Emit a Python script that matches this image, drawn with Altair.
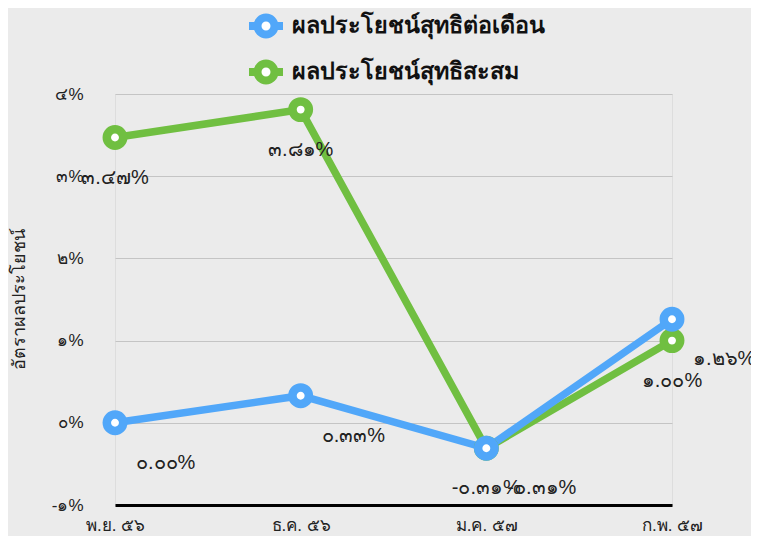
import altair as alt
import pandas as pd

months = ["พ.ย. ๕๖", "ธ.ค. ๕๖", "ม.ค. ๕๗", "ก.พ. ๕๗"]
series_names = ["ผลประโยชน์สุทธิต่อเดือน", "ผลประโยชน์สุทธิสะสม"]
monthly = [0.00, 0.33, -0.31, 1.26]
cumulative = [3.47, 3.81, -0.31, 1.00]
monthly_labels = ["๐.๐๐%", "๐.๓๓%", "-๐.๓๑%", "๑.๒๖%"]
cumulative_labels = ["๓.๔๗%", "๓.๘๑%", "-๐.๓๑%", "๑.๐๐%"]
y_ticks = [-1, 0, 1, 2, 3, 4]
y_tick_labels = ["-๑%", "๐%", "๑%", "๒%", "๓%", "๔%"]
colors = ["#51A7F9", "#70BF41"]
y_title = "อัตราผลประโยชน์"

rows = []
for name, vals, labs in [(series_names[0], monthly, monthly_labels),
                         (series_names[1], cumulative, cumulative_labels)]:
    for m, v, l in zip(months, vals, labs):
        rows.append({"month": m, "series": name, "value": v, "label": l})
df = pd.DataFrame(rows)

FONT = "sans-serif"

label_expr = "[" + ",".join("'" + s + "'" for s in y_tick_labels) + "][indexof([" + \
    ",".join(str(t) for t in y_ticks) + "], datum.value)]"

x_enc = alt.X("month:N", sort=months,
              scale=alt.Scale(type="point", padding=0),
              axis=alt.Axis(title=None, labelAngle=0, ticks=False, grid=False,
                            domainColor="#000000", domainWidth=3,
                            labelFontSize=17, labelColor="#222222",
                            labelPadding=12, labelBaseline="top"))
y_enc = alt.Y("value:Q",
              scale=alt.Scale(domain=[-1, 4], nice=False, zero=False),
              axis=alt.Axis(title=y_title, values=y_ticks, labelExpr=label_expr,
                            domain=False, ticks=False, grid=True,
                            gridColor="#c4c4c4", gridWidth=1,
                            labelFontSize=17, labelColor="#222222",
                            labelPadding=32,
                            titleFontSize=18, titleFontWeight="normal",
                            titleColor="#222222", titleX=-96, titleY=205,
                            titleAngle=-90, titleAlign="center",
                            titleBaseline="middle"))

legend_path = ("M-1,0L-0.5,0M0.5,0L1,0"
               "M0.5,0A0.5,0.5 0 1 1 -0.5,0A0.5,0.5 0 1 1 0.5,0Z")
legend = alt.Legend(title=None, orient="none", legendX=130, legendY=-89,
                    direction="vertical", padding=0,
                    symbolType=legend_path, symbolSize=1156,
                    symbolStrokeWidth=8, symbolFillColor="white",
                    symbolOpacity=1, labelLimit=0,
                    labelFontSize=23.3, labelFontWeight="bold",
                    labelColor="#111111", labelOffset=5, rowPadding=-16)
color_enc = alt.Color("series:N",
                      scale=alt.Scale(domain=series_names, range=colors),
                      sort=series_names, legend=legend)

base = alt.Chart(df)


def only(name):
    return base.transform_filter(alt.datum.series == name)


line_green = only(series_names[1]).mark_line(strokeWidth=7.5).encode(
    x=x_enc, y=y_enc, color=color_enc)
line_blue = only(series_names[0]).mark_line(strokeWidth=7.5).encode(
    x=x_enc, y=y_enc, color=color_enc)

pts_green = only(series_names[1]).mark_point(
    shape="circle", size=269, filled=True, fill="white", stroke=colors[1],
    strokeWidth=8.5, opacity=1).encode(x=x_enc, y=y_enc)
pts_blue = only(series_names[0]).mark_point(
    shape="circle", size=269, filled=True, fill="white", stroke=colors[0],
    strokeWidth=8.5, opacity=1).encode(x=x_enc, y=y_enc)

txt_green = only(series_names[1]).mark_text(
    align="center", baseline="middle", dy=40, fontSize=20,
    color="#222222", font=FONT).encode(x=x_enc, y=y_enc, text="label:N")
txt_blue = only(series_names[0]).mark_text(
    align="left", baseline="middle", dx=21, dy=40, fontSize=20,
    color="#222222", font=FONT).encode(x=x_enc, y=y_enc, text="label:N")

chart = alt.layer(line_green, line_blue, pts_green, pts_blue,
                  txt_green, txt_blue).properties(
    width=557, height=411,
    autosize=alt.AutoSizeParams(type="none"),
    padding={"left": 107, "top": 86, "right": 79, "bottom": 31},
    background="#ebebeb",
).configure_view(stroke=None).configure(font=FONT)

chart.save("out.html", embed_options={"renderer": "svg", "actions": False})
